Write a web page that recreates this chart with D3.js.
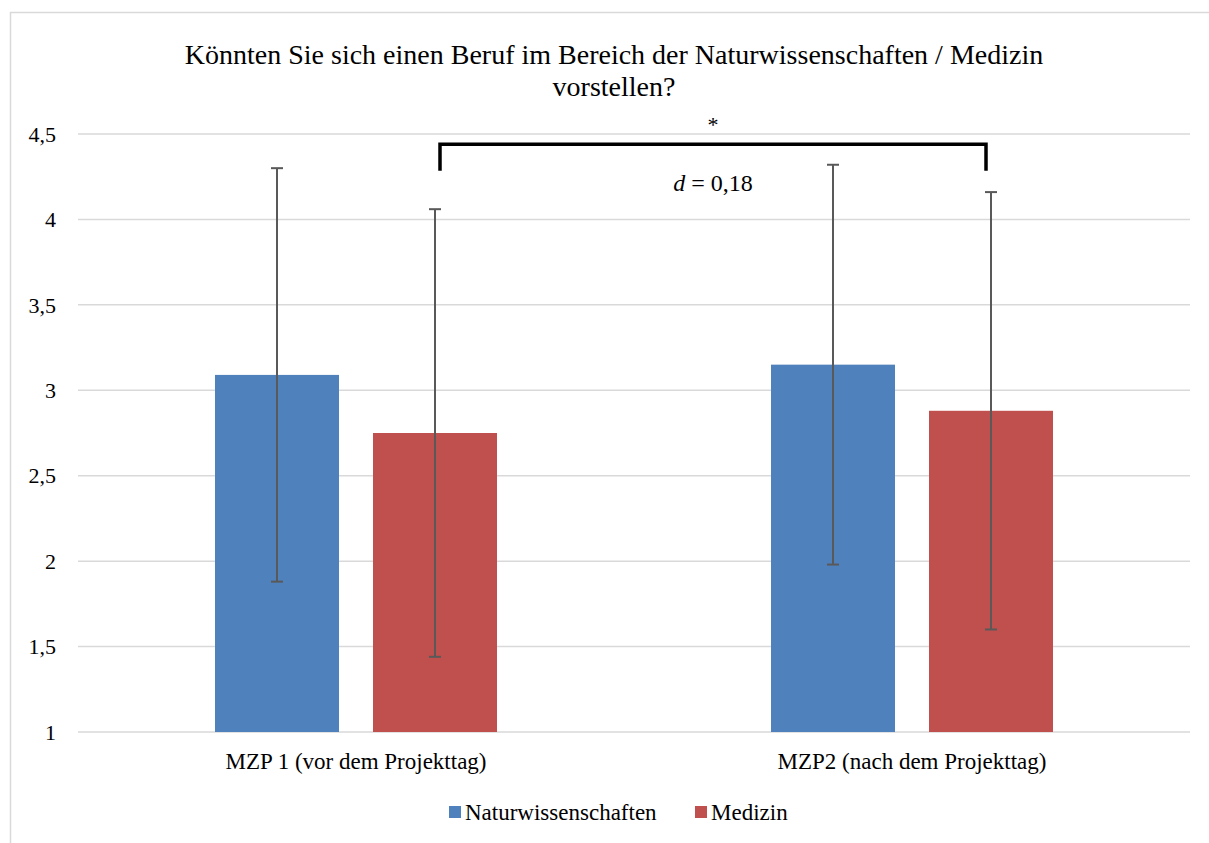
<!DOCTYPE html>
<html>
<head>
<meta charset="utf-8">
<script src="https://cdn.jsdelivr.net/npm/d3@7"></script>
<style>
  body { margin: 0; background: #fff; }
</style>
</head>
<body>
<script>
// Data
var categories = ["MZP 1 (vor dem Projekttag)", "MZP2 (nach dem Projekttag)"];
var seriesNames = ["Naturwissenschaften", "Medizin"];
var seriesColors = ["#4f81bd", "#c0504d"];
var naturMeans = [3.09, 3.15];
var naturSD = [1.21, 1.17];
var medizinMeans = [2.75, 2.88];
var medizinSD = [1.31, 1.28];
var yTicks = [1, 1.5, 2, 2.5, 3, 3.5, 4, 4.5];
var bracketText = "0,18";

var svgWidth = 1209;
var svgHeight = 843;
var fontFamily = "'Liberation Serif', 'Times New Roman', 'DejaVu Serif', serif";

var margin = { top: 134, right: 19, bottom: 111, left: 78 };
var chartWidth = svgWidth - margin.left - margin.right;
var chartHeight = svgHeight - margin.top - margin.bottom;

var svg = d3.select("body")
  .append("svg")
  .attr("width", svgWidth)
  .attr("height", svgHeight)
  .attr("font-family", fontFamily)
  .style("font-family", fontFamily);

// outer chart border (only top and left visible)
svg.append("path")
  .attr("d", "M10.5,843 V12.5 H1209")
  .attr("fill", "none")
  .attr("stroke", "#d9d9d9")
  .attr("stroke-width", 1.5);

var chartGroup = svg.append("g")
  .attr("transform", `translate(${margin.left}, ${margin.top})`);

var yScale = d3.scaleLinear()
  .domain([1, 4.5])
  .range([chartHeight, 0]);

var xScale = d3.scaleBand()
  .domain(categories)
  .range([0, chartWidth]);

var barWidth = 124;
var barGap = 34;

// gridlines
chartGroup.selectAll(".grid")
  .data(yTicks)
  .enter()
  .append("line")
  .attr("x1", 0)
  .attr("x2", chartWidth)
  .attr("y1", d => yScale(d))
  .attr("y2", d => yScale(d))
  .attr("stroke", "#d9d9d9")
  .attr("stroke-width", 1.5);

// y tick labels
chartGroup.selectAll(".ylab")
  .data(yTicks)
  .enter()
  .append("text")
  .attr("x", -22)
  .attr("y", d => yScale(d))
  .attr("dy", "0.35em")
  .attr("text-anchor", "end")
  .attr("font-size", "22px")
  .text(d => String(d).replace(".", ","));

// build rows for bars
var rows = [];
categories.forEach(function (c, i) {
  rows.push({ cat: c, s: 0, mean: naturMeans[i], sd: naturSD[i] });
  rows.push({ cat: c, s: 1, mean: medizinMeans[i], sd: medizinSD[i] });
});

function barX(d) {
  var center = xScale(d.cat) + xScale.bandwidth() / 2;
  return d.s === 0 ? center - barGap / 2 - barWidth : center + barGap / 2;
}

chartGroup.selectAll(".bar")
  .data(rows)
  .enter()
  .append("rect")
  .attr("x", d => barX(d))
  .attr("y", d => yScale(d.mean))
  .attr("width", barWidth)
  .attr("height", d => chartHeight - yScale(d.mean))
  .attr("fill", d => seriesColors[d.s]);

// error bars
var err = chartGroup.selectAll(".err")
  .data(rows)
  .enter()
  .append("g")
  .attr("stroke", "#595959")
  .attr("stroke-width", 2);

err.append("line")
  .attr("x1", d => barX(d) + barWidth / 2)
  .attr("x2", d => barX(d) + barWidth / 2)
  .attr("y1", d => yScale(d.mean + d.sd))
  .attr("y2", d => yScale(d.mean - d.sd));

err.append("line")
  .attr("x1", d => barX(d) + barWidth / 2 - 6)
  .attr("x2", d => barX(d) + barWidth / 2 + 6)
  .attr("y1", d => yScale(d.mean + d.sd))
  .attr("y2", d => yScale(d.mean + d.sd));

err.append("line")
  .attr("x1", d => barX(d) + barWidth / 2 - 6)
  .attr("x2", d => barX(d) + barWidth / 2 + 6)
  .attr("y1", d => yScale(d.mean - d.sd))
  .attr("y2", d => yScale(d.mean - d.sd));

// significance bracket between Medizin MZP1 and Medizin MZP2
var bx1 = barX(rows[1]) + barWidth / 2 + 5;
var bx2 = barX(rows[3]) + barWidth / 2 - 5;
var bTop = yScale(4.44);
var bBot = yScale(4.285);
chartGroup.append("path")
  .attr("d", `M${bx1},${bBot} V${bTop} H${bx2} V${bBot}`)
  .attr("fill", "none")
  .attr("stroke", "#000")
  .attr("stroke-width", 3.5);

chartGroup.append("text")
  .attr("x", (bx1 + bx2) / 2)
  .attr("y", yScale(4.5) - 2)
  .attr("text-anchor", "middle")
  .attr("font-size", "22px")
  .text("*");

var dLabel = chartGroup.append("text")
  .attr("x", (bx1 + bx2) / 2)
  .attr("y", yScale(4.5) + 57)
  .attr("text-anchor", "middle")
  .attr("font-size", "24px");
dLabel.append("tspan").attr("font-style", "italic").text("d");
dLabel.append("tspan").text(" = " + bracketText);

// x category labels
chartGroup.selectAll(".xlab")
  .data(categories)
  .enter()
  .append("text")
  .attr("x", d => xScale(d) + xScale.bandwidth() / 2)
  .attr("y", chartHeight + 37)
  .attr("text-anchor", "middle")
  .attr("font-size", "23px")
  .text(d => d);

// title
svg.append("text")
  .attr("x", 614)
  .attr("y", 64)
  .attr("text-anchor", "middle")
  .attr("font-size", "28px")
  .text("Könnten Sie sich einen Beruf im Bereich der Naturwissenschaften / Medizin");
svg.append("text")
  .attr("x", 614)
  .attr("y", 96)
  .attr("text-anchor", "middle")
  .attr("font-size", "28px")
  .text("vorstellen?");

// legend
var legendX = [449, 695];
var legend = svg.selectAll(".legend")
  .data(seriesNames)
  .enter()
  .append("g")
  .attr("transform", (d, i) => `translate(${legendX[i]}, 812)`);

legend.append("rect")
  .attr("x", 0)
  .attr("y", -6)
  .attr("width", 12)
  .attr("height", 12)
  .attr("fill", (d, i) => seriesColors[i]);

legend.append("text")
  .attr("x", 16)
  .attr("y", 0)
  .attr("dy", "0.35em")
  .attr("font-size", "23px")
  .text(d => d);
</script>
</body>
</html>
